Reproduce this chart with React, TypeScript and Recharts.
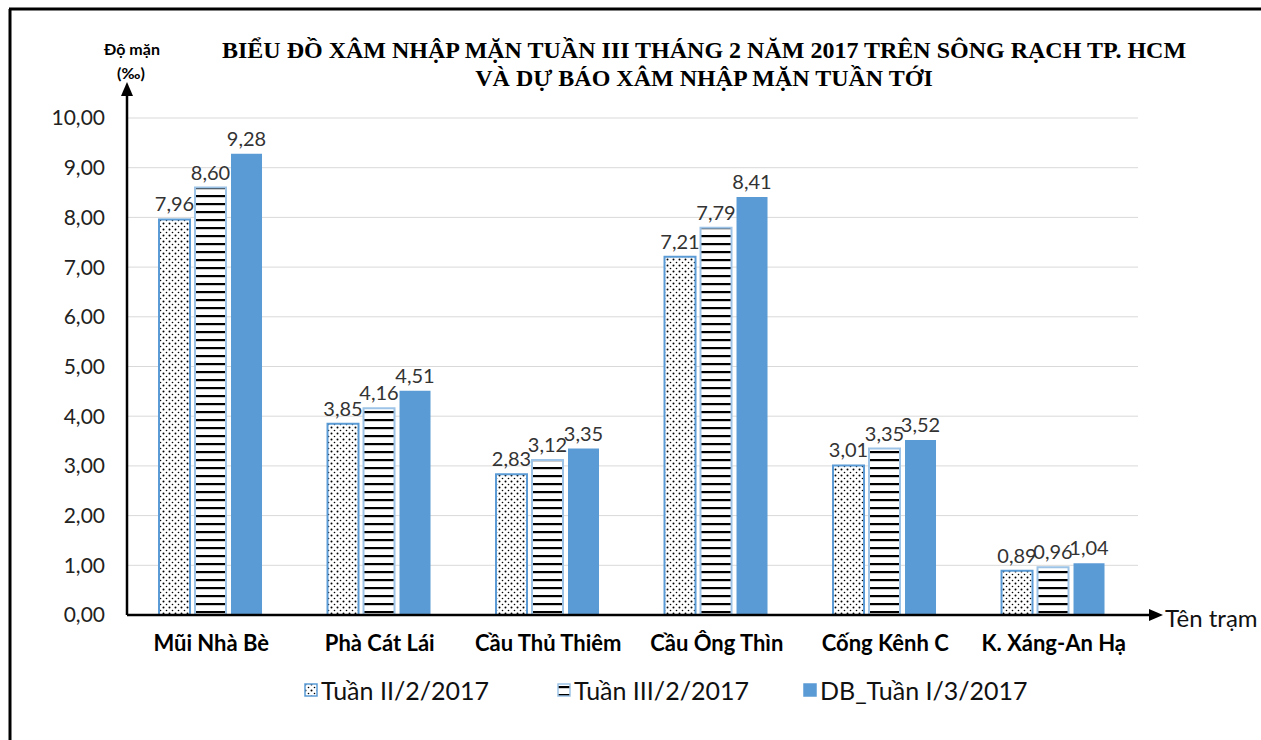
import { Bar, BarChart, CartesianGrid, LabelList, XAxis, YAxis } from "recharts";

const stations = ["Mũi Nhà Bè", "Phà Cát Lái", "Cầu Thủ Thiêm", "Cầu Ông Thìn", "Cống Kênh C", "K. Xáng-An Hạ"];
const week2Feb = [7.96, 3.85, 2.83, 7.21, 3.01, 0.89];
const week3Feb = [8.6, 4.16, 3.12, 7.79, 3.35, 0.96];
const forecastWeek1Mar = [9.28, 4.51, 3.35, 8.41, 3.52, 1.04];
const yTicks = [0, 1, 2, 3, 4, 5, 6, 7, 8, 9, 10];

const seriesNames = ["Tuần II/2/2017", "Tuần III/2/2017", "DB_Tuần I/3/2017"];

const data = stations.map((name, i) => ({
  name,
  w2: week2Feb[i],
  w3: week3Feb[i],
  db: forecastWeek1Mar[i],
}));

const W = 1261;
const H = 740;
const PLOT_LEFT = 127;
const PLOT_RIGHT = 1138;
const PLOT_TOP = 118;
const PLOT_BOTTOM = 615;
const X_AXIS_H = 40;
const FONT = "Lato, 'Open Sans', sans-serif";
const SERIF = "'Liberation Serif', 'Times New Roman', serif";

const fmt = (v: any) => Number(v).toFixed(2).replace(".", ",");

function LegendBox() {
  const items = [
    { label: seriesNames[0], fill: "url(#dots)", stroke: "#5b9bd5", gap: 0 },
    { label: seriesNames[1], fill: "url(#stripes)", stroke: "#9dc3e6", gap: 68 },
    { label: seriesNames[2], fill: "#5b9bd5", stroke: "#5b9bd5", gap: 54 },
  ];
  return (
    <div
      style={{
        position: "absolute", left: 304, top: 675, display: "flex", alignItems: "center",
        fontFamily: FONT, fontSize: 25, color: "#111", whiteSpace: "nowrap",
      }}
    >
      {items.map((it) => (
        <div key={it.label} style={{ display: "flex", alignItems: "center", marginLeft: it.gap }}>
          <svg width={14} height={14} style={{ marginRight: 3 }}>
            <rect x={1} y={1} width={12} height={12} fill={it.fill} stroke={it.stroke} strokeWidth={1.5} />
          </svg>
          <span>{it.label}</span>
        </div>
      ))}
    </div>
  );
}

export default function App() {
  const labelProps = { position: "top" as const, formatter: fmt, offset: 8, fill: "#333", fontSize: 20, fontFamily: FONT };
  return (
    <div style={{ position: "absolute", left: 0, top: 0, width: W, height: H, background: "#fff" }}>
      <BarChart
        width={W}
        height={H}
        data={data}
        margin={{ top: PLOT_TOP, right: W - PLOT_RIGHT, bottom: H - PLOT_BOTTOM - X_AXIS_H, left: 0 }}
        barCategoryGap="19%"
        barGap={5}
      >
        <defs>
          <pattern id="dots" width={6} height={6} patternUnits="userSpaceOnUse">
            <rect width={6} height={6} fill="#fff" />
            <circle cx={1.5} cy={1.5} r={1} fill="#000" />
            <circle cx={4.5} cy={4.5} r={0.8} fill="#000" />
          </pattern>
          <pattern id="stripes" width={8} height={8} patternUnits="userSpaceOnUse">
            <rect width={8} height={8} fill="#fff" />
            <rect y={3} width={8} height={2.2} fill="#000" />
          </pattern>
        </defs>
        <CartesianGrid vertical={false} stroke="#d9d9d9" />
        <XAxis
          dataKey="name"
          height={X_AXIS_H}
          axisLine={false}
          tickLine={false}
          tickSize={0}
          tickMargin={20}
          interval={0}
          tick={{ fill: "#000", fontSize: 22, fontWeight: 700, fontFamily: FONT }}
        />
        <YAxis
          width={PLOT_LEFT}
          domain={[0, 10]}
          ticks={yTicks}
          axisLine={false}
          tickLine={false}
          tickSize={0}
          tickMargin={22}
          tickFormatter={fmt}
          tick={{ fill: "#222", fontSize: 21, fontFamily: FONT }}
        />
        <Bar dataKey="w2" name={seriesNames[0]} fill="url(#dots)" stroke="#5b9bd5" strokeWidth={2} isAnimationActive={false}>
          <LabelList dataKey="w2" {...labelProps} />
        </Bar>
        <Bar dataKey="w3" name={seriesNames[1]} fill="url(#stripes)" stroke="#9dc3e6" strokeWidth={2} isAnimationActive={false}>
          <LabelList dataKey="w3" {...labelProps} />
        </Bar>
        <Bar dataKey="db" name={seriesNames[2]} fill="#5b9bd5" isAnimationActive={false}>
          <LabelList dataKey="db" {...labelProps} />
        </Bar>
      </BarChart>
      <LegendBox />
      <svg width={W} height={H} style={{ position: "absolute", left: 0, top: 0, pointerEvents: "none" }}>
        {/* frame */}
        <line x1={9} y1={9} x2={W} y2={9} stroke="#000" strokeWidth={3} />
        <line x1={10} y1={9} x2={10} y2={H} stroke="#000" strokeWidth={3} />
        {/* axes with arrows */}
        <line x1={PLOT_LEFT} y1={PLOT_BOTTOM} x2={PLOT_LEFT} y2={92} stroke="#000" strokeWidth={2.5} />
        <polygon points={`${PLOT_LEFT},82 ${PLOT_LEFT - 6},96 ${PLOT_LEFT + 6},96`} fill="#000" />
        <line x1={PLOT_LEFT} y1={PLOT_BOTTOM} x2={1152} y2={PLOT_BOTTOM} stroke="#000" strokeWidth={2.5} />
        <polygon points={`1163,${PLOT_BOTTOM} 1149,${PLOT_BOTTOM - 6} 1149,${PLOT_BOTTOM + 6}`} fill="#000" />
        <text x={1165} y={PLOT_BOTTOM + 12} fontFamily={FONT} fontSize={24} fill="#111">Tên trạm</text>
        <text x={132} y={55} textAnchor="middle" fontFamily={FONT} fontSize={16} fontWeight={700} fill="#000">Độ mặn</text>
        <text x={131} y={79} textAnchor="middle" fontFamily={FONT} fontSize={16} fontWeight={700} fill="#000">(‰)</text>
        {/* title */}
        <text x={704} y={58} textAnchor="middle" fontFamily={SERIF} fontSize={24} fontWeight={700} fill="#000">
          BIỂU ĐỒ XÂM NHẬP MẶN TUẦN III THÁNG 2 NĂM 2017 TRÊN SÔNG RẠCH TP. HCM
        </text>
        <text x={704} y={86} textAnchor="middle" fontFamily={SERIF} fontSize={24} fontWeight={700} fill="#000">
          VÀ DỰ BÁO XÂM NHẬP MẶN TUẦN TỚI
        </text>
      </svg>
    </div>
  );
}
